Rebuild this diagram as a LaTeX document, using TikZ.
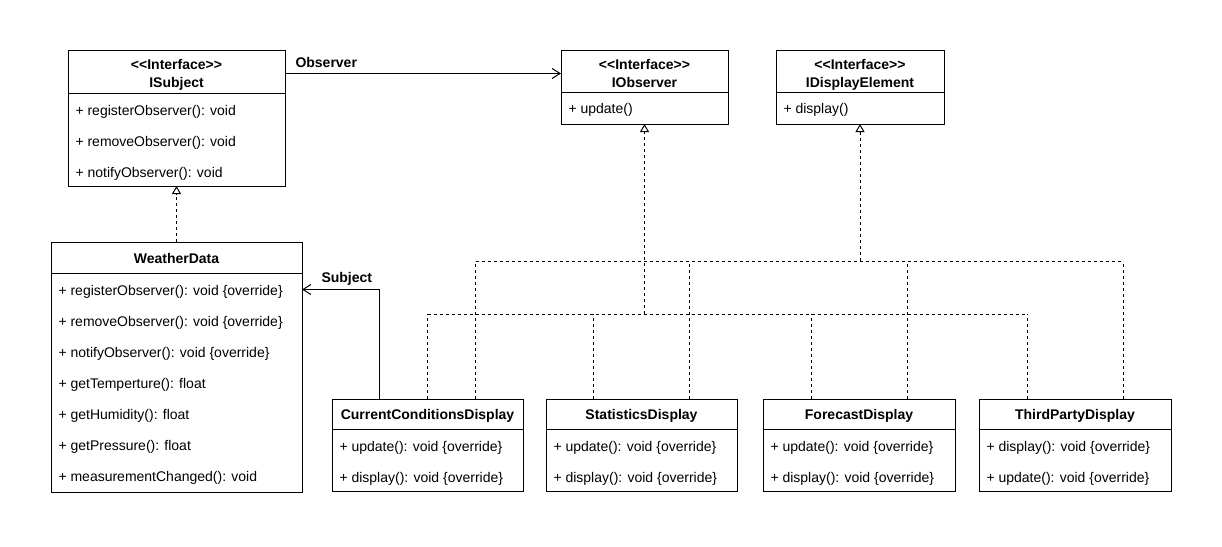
\documentclass[tikz,border=0pt]{standalone}
\usepackage{fontspec}
\setmainfont{Liberation Sans}[Ligatures=TeXOff]
\usetikzlibrary{arrows.meta,calc}
\begin{document}
\begin{tikzpicture}[x=1pt,y=-1pt,line width=1pt,
  cls/.style={draw,rectangle,anchor=north west,outer sep=0pt,inner sep=0pt},
  hd/.style={font=\fontsize{14}{17}\selectfont\bfseries,anchor=base,inner sep=0pt},
  mem/.style={font=\fontsize{14}{17}\selectfont,anchor=base west,inner sep=0pt},
  lbl/.style={font=\fontsize{14}{17}\selectfont\bfseries,anchor=base west,inner sep=0pt},
  dline/.style={dash pattern=on 3pt off 3pt},
  real/.style={dash pattern=on 3pt off 3pt,-{Triangle[open,length=8pt,width=9pt,line width=1pt]}},
  assoc/.style={-{Straight Barb[length=8pt,width=10pt,line width=1pt]}}
]
\useasboundingbox[fill=white] (0,0) rectangle (1222,546);

% ISubject
\node[cls,minimum width=217pt,minimum height=136pt] (isub) at (68,50) {};
\draw (68,93) -- (285,93);
\node[hd] (isubs) at (176.5,69) {<<Interface>>};
\node[hd] (isubn) at (176.5,87) {ISubject};
\node[mem] (isub1) at (75,115) {+ registerObserver(): void};
\node[mem] (isub2) at (75,146) {+ removeObserver(): void};
\node[mem] (isub3) at (75,177) {+ notifyObserver(): void};

% IObserver
\node[cls,minimum width=167pt,minimum height=74pt] (iobs) at (561,50) {};
\draw (561,92) -- (728,92);
\node[hd] (iobss) at (644.5,69) {<<Interface>>};
\node[hd] (iobsn) at (644.5,87) {IObserver};
\node[mem] (iobs1) at (568,113) {+ update()};

% IDisplayElement
\node[cls,minimum width=168pt,minimum height=74pt] (idisp) at (776,50) {};
\draw (776,92) -- (944,92);
\node[hd] (idisps) at (860,69) {<<Interface>>};
\node[hd] (idispn) at (860,87) {IDisplayElement};
\node[mem] (idisp1) at (783,113) {+ display()};

% WeatherData
\node[cls,minimum width=251pt,minimum height=250pt] (wd) at (51,242) {};
\draw (51,273) -- (302,273);
\node[hd] (wdn) at (176.5,263) {WeatherData};
\node[mem] (wd1) at (58,295) {+ registerObserver(): void \{override\}};
\node[mem] (wd2) at (58,326) {+ removeObserver(): void \{override\}};
\node[mem] (wd3) at (58,357) {+ notifyObserver(): void \{override\}};
\node[mem] (wd4) at (58,388) {+ getTemperture(): float};
\node[mem] (wd5) at (58,419) {+ getHumidity(): float};
\node[mem] (wd6) at (58,450) {+ getPressure(): float};
\node[mem] (wd7) at (58,481) {+ measurementChanged(): void};

% Displays
\node[cls,minimum width=191pt,minimum height=92pt] (ccd) at (332,399) {};
\draw (332,429) -- (523,429);
\node[hd] (ccdn) at (427.5,419) {CurrentConditionsDisplay};
\node[mem] (ccd1) at (339,451) {+ update(): void \{override\}};
\node[mem] (ccd2) at (339,482) {+ display(): void \{override\}};

\node[cls,minimum width=191pt,minimum height=92pt] (sd) at (546,399) {};
\draw (546,429) -- (737,429);
\node[hd] (sdn) at (641.5,419) {StatisticsDisplay};
\node[mem] (sd1) at (553,451) {+ update(): void \{override\}};
\node[mem] (sd2) at (553,482) {+ display(): void \{override\}};

\node[cls,minimum width=192pt,minimum height=92pt] (fd) at (763,399) {};
\draw (763,429) -- (955,429);
\node[hd] (fdn) at (859,419) {ForecastDisplay};
\node[mem] (fd1) at (770,451) {+ update(): void \{override\}};
\node[mem] (fd2) at (770,482) {+ display(): void \{override\}};

\node[cls,minimum width=192pt,minimum height=92pt] (tpd) at (979,399) {};
\draw (979,429) -- (1171,429);
\node[hd] (tpdn) at (1075,419) {ThirdPartyDisplay};
\node[mem] (tpd1) at (986,451) {+ display(): void \{override\}};
\node[mem] (tpd2) at (986,482) {+ update(): void \{override\}};

% WeatherData realizes ISubject
\draw[real] (wd.north) -- (isub.south);

% Observer association
\draw[assoc] ($(isub.north east)+(0,23.5)$) -- ($(iobs.north west)+(0,23.5)$);
\node[lbl] (lobs) at (295,67) {Observer};

% Subject association
\coordinate (ccdsub) at ($(ccd.north)+(-48.5,0)$);
\draw[assoc] (ccdsub) |- ($(wd.north east)+(0,47.5)$);
\node[lbl] (lsub) at (321,282) {Subject};

% realization of IObserver
\coordinate (jo) at ($(iobs.south)+(0,190)$);
\coordinate (ccdo) at (ccd.north);
\coordinate (sdo) at ($(sd.north)+(-48.5,0)$);
\coordinate (fdo) at ($(fd.north)+(-48,0)$);
\coordinate (tpdo) at ($(tpd.north)+(-48,0)$);
\draw[dline] (ccdo) -- (ccdo |- jo);
\draw[dline] (sdo) -- (sdo |- jo);
\draw[dline] (fdo) -- (fdo |- jo);
\draw[dline] (tpdo) -- (tpdo |- jo);
\draw[dline] (ccdo |- jo) -- (tpdo |- jo);
\draw[real] (jo) -- (iobs.south);

% realization of IDisplayElement
\coordinate (jd) at ($(idisp.south)+(0,137)$);
\coordinate (ccdd) at ($(ccd.north)+(48,0)$);
\coordinate (sdd) at ($(sd.north)+(48,0)$);
\coordinate (fdd) at ($(fd.north)+(48,0)$);
\coordinate (tpdd) at ($(tpd.north)+(48,0)$);
\draw[dline] (ccdd) -- (ccdd |- jd);
\draw[dline] (sdd) -- (sdd |- jd);
\draw[dline] (fdd) -- (fdd |- jd);
\draw[dline] (tpdd) -- (tpdd |- jd);
\draw[dline] (ccdd |- jd) -- (tpdd |- jd);
\draw[real] (jd) -- (idisp.south);
\end{tikzpicture}
\end{document}
